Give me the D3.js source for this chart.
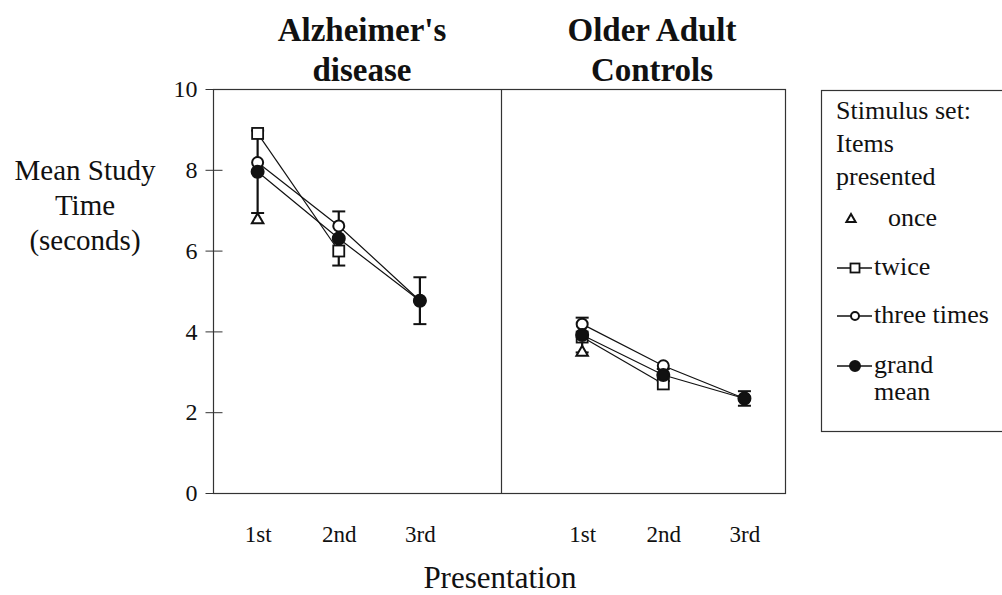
<!DOCTYPE html>
<html>
<head>
<meta charset="utf-8">
<script src="https://cdn.jsdelivr.net/npm/d3@7"></script>
<style>
  body { margin: 0; background: #fff; }
  svg text { font-family: "Liberation Serif", "Times New Roman", serif; fill: #111; }
</style>
</head>
<body>
<div id="chart"></div>
<script>
// Chart values
var groups        = ["Alzheimer's disease", "Older Adult Controls"];
var presentations = ["1st", "2nd", "3rd"];
var yTicks        = [0, 2, 4, 6, 8, 10];

// once: 1st only, twice: 1st and 2nd, three times: all three
var onceAD   = [6.80];
var twiceAD  = [8.90, 5.99];
var threeAD  = [8.18, 6.61, 4.76];
var meanAD   = [7.95, 6.30, 4.76];
var errAD    = [1.02, 0.67, 0.58];

var onceOC   = [3.52];
var twiceOC  = [3.86, 2.70];
var threeOC  = [4.18, 3.15, 2.34];
var meanOC   = [3.91, 2.92, 2.34];
var errOC    = [0.43, 0.15, 0.18];

var legendItems = ["once", "twice", "three times", "grand mean"];

// Size of the page
var width  = 1002,
    height = 595;

var svg = d3.select("#chart")
            .append("svg")
              .attr("width", width)
              .attr("height", height);

// one slot per presentation, with an empty slot between the two groups
var x = d3.scaleLinear().domain([-0.55, 6.5]).range([213, 785]);
var y = d3.scaleLinear().domain([0, 10]).range([493, 89]);

function slot(g, p) { return g * 4 + p; }

var series = [
  { g: 0, once: onceAD, twice: twiceAD, three: threeAD, mean: meanAD, err: errAD },
  { g: 1, once: onceOC, twice: twiceOC, three: threeOC, mean: meanOC, err: errOC }
];

// Frame and panel divider
svg.append("rect")
     .attr("x", x.range()[0] + 0.5)
     .attr("y", y(10) + 0.5)
     .attr("width", x.range()[1] - x.range()[0])
     .attr("height", y(0) - y(10))
     .style("fill", "none")
     .style("stroke", "#333")
     .style("stroke-width", 1.2);

svg.append("line")
     .attr("x1", Math.round(x(3)) + 0.5).attr("x2", Math.round(x(3)) + 0.5)
     .attr("y1", y(10)).attr("y2", y(0))
     .style("stroke", "#333")
     .style("stroke-width", 1.2);

// Y axis with crossing ticks
var yAxis = svg.append("g")
     .attr("transform", "translate(" + (x.range()[0] + 0.5) + ",0)")
     .call(d3.axisLeft(y).tickValues(yTicks).tickSize(8).tickPadding(8));
yAxis.select(".domain").remove();
yAxis.selectAll(".tick line").attr("x1", 9).style("stroke", "#333");
yAxis.selectAll(".tick text")
     .style("font-size", "24px")
     .style("font-family", "Liberation Serif");

// X axis labels
var xVals = [], xLabels = [];
groups.forEach(function(gName, g) {
  presentations.forEach(function(p, i) { xVals.push(slot(g, i)); xLabels.push(p); });
});
var xAxis = svg.append("g")
     .attr("transform", "translate(0," + y(0) + ")")
     .call(d3.axisBottom(x).tickValues(xVals)
             .tickFormat(function(d, i) { return xLabels[i]; })
             .tickSize(0).tickPadding(33));
xAxis.select(".domain").remove();
xAxis.selectAll(".tick text")
     .style("font-size", "23px")
     .style("font-family", "Liberation Serif");

// Axis titles
svg.append("text")
     .attr("x", 500).attr("y", 588)
     .attr("text-anchor", "middle")
     .style("font-size", "31px")
     .text("Presentation");

var yTitle = ["Mean Study", "Time", "(seconds)"];
svg.append("g").selectAll("text")
   .data(yTitle)
   .enter()
   .append("text")
     .attr("x", 85)
     .attr("y", function(d, i) { return 180 + i * 35; })
     .attr("text-anchor", "middle")
     .style("font-size", "29px")
     .text(function(d) { return d; });

// Panel titles
var titleLines = [["Alzheimer's", "disease"], ["Older Adult", "Controls"]];
var titleX = [362, 652];
titleLines.forEach(function(lines, g) {
  svg.append("g").selectAll("text")
     .data(lines)
     .enter()
     .append("text")
       .attr("x", titleX[g])
       .attr("y", function(d, i) { return 41 + i * 40; })
       .attr("text-anchor", "middle")
       .style("font-size", "33px")
       .style("font-weight", "bold")
       .text(function(d) { return d; });
});

// Connecting lines
var line = d3.line()
             .x(function(d) { return x(d[0]); })
             .y(function(d) { return y(d[1]); });

series.forEach(function(s) {
  ["twice", "three", "mean"].forEach(function(k) {
    var pts = s[k].map(function(v, i) { return [slot(s.g, i), v]; });
    svg.append("path")
         .attr("d", line(pts))
         .style("fill", "none")
         .style("stroke", "#111")
         .style("stroke-width", 1.2);
  });
});

// Error bars on the grand mean
series.forEach(function(s) {
  var eb = svg.append("g").attr("class", "errorbars")
     .selectAll("g")
     .data(s.mean.map(function(v, i) { return { x: slot(s.g, i), v: v, e: s.err[i] }; }))
     .enter()
     .append("g")
       .style("stroke", "#111");
  eb.append("line")
       .attr("x1", function(d) { return x(d.x); }).attr("x2", function(d) { return x(d.x); })
       .attr("y1", function(d) { return y(d.v - d.e); }).attr("y2", function(d) { return y(d.v + d.e); })
       .style("stroke-width", 2.2);
  [-1, 1].forEach(function(sign) {
    eb.append("line")
         .attr("x1", function(d) { return x(d.x) - 6.5; }).attr("x2", function(d) { return x(d.x) + 6.5; })
         .attr("y1", function(d) { return y(d.v + sign * d.e); }).attr("y2", function(d) { return y(d.v + sign * d.e); })
         .style("stroke-width", 2);
  });
});

// Markers
function drawTriangle(sel, cx, cy, size) {
  var h = size, w = size * 1.15;
  sel.append("path")
       .attr("d", "M" + cx + "," + (cy - h / 2) + "L" + (cx + w / 2) + "," + (cy + h / 2) + "L" + (cx - w / 2) + "," + (cy + h / 2) + "Z")
       .style("fill", "#fff")
       .style("stroke", "#111")
       .style("stroke-width", 2);
}
function drawSquare(sel, cx, cy, size) {
  sel.append("rect")
       .attr("x", cx - size / 2).attr("y", cy - size / 2)
       .attr("width", size).attr("height", size)
       .style("fill", "#fff")
       .style("stroke", "#111")
       .style("stroke-width", 1.8);
}
function drawCircle(sel, cx, cy, r, filled) {
  sel.append("circle")
       .attr("cx", cx).attr("cy", cy).attr("r", r)
       .style("fill", filled ? "#111" : "#fff")
       .style("stroke", "#111")
       .style("stroke-width", 2);
}

var marks = svg.append("g").attr("class", "markers");
series.forEach(function(s) {
  s.once.forEach(function(v, i) { drawTriangle(marks, x(slot(s.g, i)), y(v), 10); });
  s.twice.forEach(function(v, i) { drawSquare(marks, x(slot(s.g, i)), y(v), 11); });
  s.three.forEach(function(v, i) { drawCircle(marks, x(slot(s.g, i)), y(v), 5.5, false); });
  s.mean.forEach(function(v, i) { drawCircle(marks, x(slot(s.g, i)), y(v), 6, true); });
});

// Legend
var legend = svg.append("g").attr("class", "legend");
legend.append("rect")
     .attr("x", 821.5).attr("y", 90.5)
     .attr("width", 200).attr("height", 341)
     .style("fill", "none")
     .style("stroke", "#333")
     .style("stroke-width", 1.2);

var legendHead = ["Stimulus set:", "Items", "presented"];
legend.selectAll("text.head")
   .data(legendHead)
   .enter()
   .append("text")
     .attr("class", "head")
     .attr("x", 836)
     .attr("y", function(d, i) { return 119 + i * 33; })
     .style("font-size", "26px")
     .text(function(d) { return d; });

var legendY = [219, 268, 316, 366];
legendItems.forEach(function(name, i) {
  var cy = legendY[i];
  if (i > 0) {
    legend.append("line")
         .attr("x1", 837).attr("x2", 872)
         .attr("y1", cy).attr("y2", cy)
         .style("stroke", "#111")
         .style("stroke-width", 1.5);
  }
  if (i === 0) drawTriangle(legend, 851, cy - 1, 8);
  if (i === 1) drawSquare(legend, 855, cy, 9);
  if (i === 2) drawCircle(legend, 855, cy, 4, false);
  if (i === 3) drawCircle(legend, 855, cy, 5, true);

  var tx = i === 0 ? 888 : 874;
  var words = name === "grand mean" ? ["grand", "mean"] : [name];
  words.forEach(function(w, j) {
    legend.append("text")
         .attr("x", tx)
         .attr("y", cy + 7 + j * 27)
         .style("font-size", "26px")
         .text(w);
  });
});
</script>
</body>
</html>
